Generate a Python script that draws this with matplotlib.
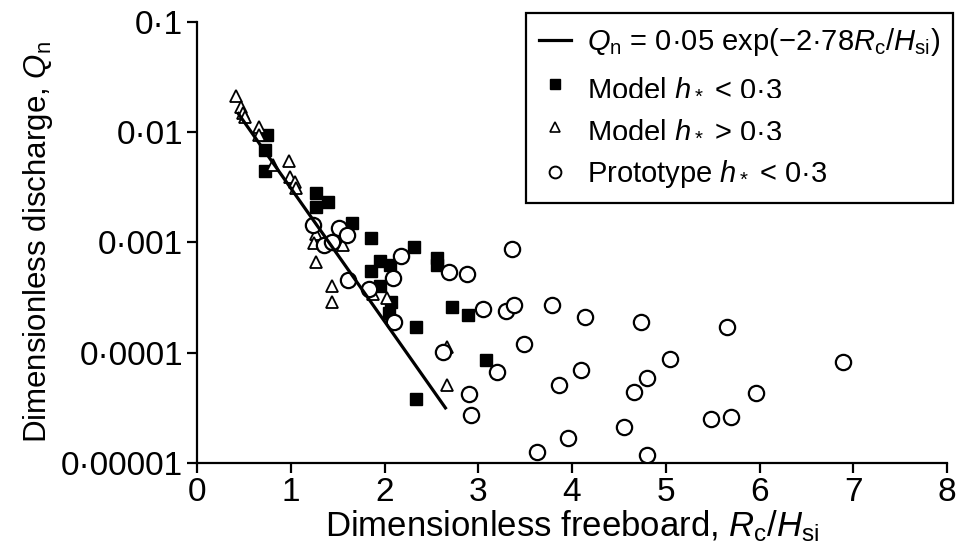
import matplotlib
matplotlib.use("Agg")
import matplotlib.pyplot as plt
from matplotlib.lines import Line2D
import numpy as np

plt.rcParams["font.family"] = ["Liberation Sans", "DejaVu Sans"]
plt.rcParams["mathtext.fontset"] = "custom"
plt.rcParams["mathtext.rm"] = "Liberation Sans"
plt.rcParams["mathtext.it"] = "Liberation Sans:italic"
plt.rcParams["mathtext.bf"] = "Liberation Sans:bold"

# Model tests, h* < 0.3 (filled squares)
model_lo_x = [0.75, 0.73, 0.72, 1.27, 1.40, 1.27, 1.65, 1.86, 2.31, 2.56,
              2.56, 1.95, 2.06, 1.86, 1.95, 2.07, 2.05, 2.72, 2.89, 2.34,
              3.08, 2.34]
model_lo_q = [0.0094, 0.0069, 0.0044, 0.0028, 0.0023, 0.0021, 0.0015,
              0.0011, 0.00091, 0.00072, 0.00062, 0.00068, 0.00062, 0.00055,
              0.00040, 0.00029, 0.00023, 0.00026, 0.00022, 0.00017,
              0.000086, 0.000038]

# Model tests, h* > 0.3 (open triangles)
model_hi_x = [0.42, 0.47, 0.49, 0.51, 0.66, 0.66, 0.98, 0.81, 0.99, 1.04,
              1.06, 1.27, 1.25, 1.56, 1.27, 1.44, 1.44, 1.88, 2.03, 2.67,
              2.67]
model_hi_q = [0.021, 0.017, 0.015, 0.0137, 0.0111, 0.0094, 0.0055, 0.0050,
              0.0039, 0.0035, 0.0031, 0.0012, 0.00099, 0.00095, 0.00066,
              0.00040, 0.00029, 0.00034, 0.00031, 0.000113, 0.000051]

# Prototype measurements, h* < 0.3 (open circles)
proto_x = [1.24, 1.51, 1.60, 1.35, 1.44, 2.18, 1.61, 1.83, 2.09, 2.10,
           2.69, 2.88, 3.36, 3.05, 3.30, 3.38, 3.79, 4.14, 4.74, 5.65,
           3.49, 5.04, 6.89, 2.62, 3.20, 4.10, 4.80, 3.86, 4.66, 5.96,
           2.90, 2.92, 5.48, 5.70, 3.96, 4.55, 3.63, 4.80]
proto_q = [0.00144, 0.00135, 0.00117, 0.00095, 0.00101, 0.00075, 0.00046,
           0.00038, 0.00048, 0.00019, 0.00054, 0.00052, 0.00087, 0.00025,
           0.00024, 0.00027, 0.00027, 0.00021, 0.00019, 0.00017, 0.00012,
           0.000088, 0.000082, 0.000101, 0.000067, 0.000070, 0.000059,
           0.000051, 0.000044, 0.000043, 0.000042, 0.000027, 0.000025,
           0.000026, 0.000017, 0.000021, 0.0000126, 0.0000118]

# Fitted relation Qn = 0.05 exp(-2.78 Rc/Hsi)
fit_a = 0.05
fit_b = 2.78
fit_range = (0.44, 2.65)

y_ticks = [1e-5, 1e-4, 1e-3, 1e-2, 1e-1]
y_tick_labels = ["0\u00b700001", "0\u00b70001", "0\u00b7001", "0\u00b701", "0\u00b71"]
x_ticks = [0, 1, 2, 3, 4, 5, 6, 7, 8]

fig = plt.figure(figsize=(9.57, 5.58), dpi=100)
ax = fig.add_axes([197 / 957, 1 - 463 / 558, 750 / 957, (463 - 21.7) / 558])

ax.plot(model_lo_x, model_lo_q, ls="none", marker="s", ms=8.5,
        mfc="black", mec="black", zorder=3)
ax.plot(model_hi_x, model_hi_q, ls="none", marker="^", ms=8,
        mfc="white", mec="black", mew=1.3, zorder=3)
ax.plot(proto_x, proto_q, ls="none", marker="o", ms=11,
        mfc="white", mec="black", mew=1.6, zorder=4)

xs = np.linspace(fit_range[0], fit_range[1], 50)
ax.plot(xs, fit_a * np.exp(-fit_b * xs), color="black", lw=2.3, zorder=5)

ax.set_yscale("log")
ax.set_xlim(0, 8)
ax.set_ylim(1e-5, 0.1)
ax.set_yticks(y_ticks)
ax.set_yticklabels(y_tick_labels)
ax.yaxis.set_minor_locator(matplotlib.ticker.NullLocator())
ax.set_xticks(x_ticks)
ax.set_xticklabels([str(t) for t in x_ticks])

for side in ("top", "right"):
    ax.spines[side].set_visible(False)
for side in ("left", "bottom"):
    ax.spines[side].set_linewidth(1.6)
ax.tick_params(direction="out", length=7, width=1.6, labelsize=24, pad=3)

ax.set_xlabel("Dimensionless freeboard, $R_\\mathrm{c}/H_\\mathrm{si}$",
              fontsize=25, labelpad=0)
ax.set_ylabel("Dimensionless discharge, $Q_\\mathrm{n}$", fontsize=22.5,
              labelpad=4)

handles = [
    Line2D([], [], color="black", lw=2.3),
    Line2D([], [], ls="none", marker="s", ms=7, mfc="black", mec="black"),
    Line2D([], [], ls="none", marker="^", ms=6.5, mfc="white", mec="black", mew=1.2),
    Line2D([], [], ls="none", marker="o", ms=8.5, mfc="white", mec="black", mew=1.4),
]
labels = [
    "$Q_\\mathrm{n}$ = 0\u00b705 exp(\u22122\u00b778$R_\\mathrm{c}$/$H_\\mathrm{si}$)",
    "Model $h_*$ < 0\u00b73",
    "Model $h_*$ > 0\u00b73",
    "Prototype $h_*$ < 0\u00b73",
]
leg = fig.legend(handles, labels, loc="upper left",
                 bbox_to_anchor=(526 / 957, 1 - 13 / 558),
                 fontsize=21, frameon=True, fancybox=False, framealpha=1,
                 edgecolor="black", handlelength=1.1, handletextpad=0.55,
                 labelspacing=0.5, borderpad=0.45, borderaxespad=0)
leg.get_frame().set_linewidth(1.6)

fig.savefig("out.png", dpi=100)
